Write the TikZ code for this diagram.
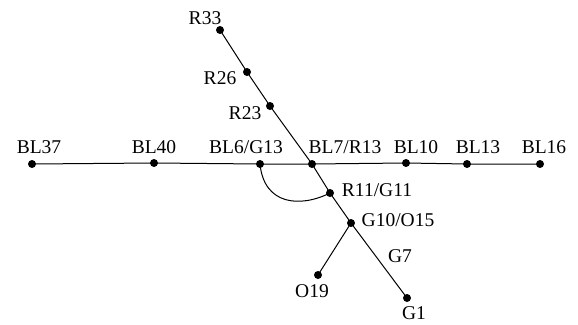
\documentclass[tikz,border=0pt]{standalone}
\usepackage{fontspec}
\setmainfont{Liberation Serif}
\begin{document}
\begin{tikzpicture}[x=1pt,y=-1pt,
  stn/.style={circle,fill=black,inner sep=0pt,minimum size=8pt},
  lbl/.style={inner sep=0pt,font=\fontsize{19.5}{20}\selectfont},
  ln/.style={line width=1pt}]
\useasboundingbox (0,0) rectangle (578,324);
% stations
\node[stn] (bl37) at (32,164) {};
\node[stn] (bl40) at (154,163) {};
\node[stn] (bl6) at (260,164) {};
\node[stn] (bl7) at (312,164) {};
\node[stn] (bl10) at (406,163) {};
\node[stn] (bl13) at (467,164) {};
\node[stn] (bl16) at (540,164) {};
\node[stn] (r33) at (220,30) {};
\node[stn] (r26) at (247,72) {};
\node[stn] (r23) at (270,106) {};
\node[stn] (r11) at (330,193) {};
\node[stn] (g10) at (351,223) {};
\node[stn] (o19) at (318,275) {};
\node[stn] (g1) at (407,298) {};
% lines
\draw[ln] (bl37.center) -- (bl40.center) -- (bl6.center) -- (bl7.center) -- (bl10.center) -- (bl13.center) -- (bl16.center);
\draw[ln] (r33.center) -- (r26.center) -- (r23.center) -- (bl7.center) -- (r11.center) -- (g10.center) -- (g1.center);
\draw[ln] (g10.center) -- (o19.center);
\draw[ln] (bl6.center) .. controls (264,205) and (300,208) .. (r11.center);
% labels
\node[lbl] (tbl37) at (39,147) {BL37};
\node[lbl] (tbl40) at (154,147) {BL40};
\node[lbl] (tbl6) at (246,147) {BL6/G13};
\node[lbl] (tbl7) at (345,147) {BL7/R13};
\node[lbl] (tbl10) at (416,147) {BL10};
\node[lbl] (tbl13) at (478,147) {BL13};
\node[lbl] (tbl16) at (544,147) {BL16};
\node[lbl] (tr33) at (205,18) {R33};
\node[lbl] (tr26) at (220,78) {R26};
\node[lbl] (tr23) at (245,113) {R23};
\node[lbl] (tr11) at (377,190) {R11/G11};
\node[lbl] (tg10) at (398,220) {G10/O15};
\node[lbl] (tg7) at (400,256) {G7};
\node[lbl] (to19) at (312,291) {O19};
\node[lbl] (tg1) at (414,313.5) {G1};
\end{tikzpicture}
\end{document}
